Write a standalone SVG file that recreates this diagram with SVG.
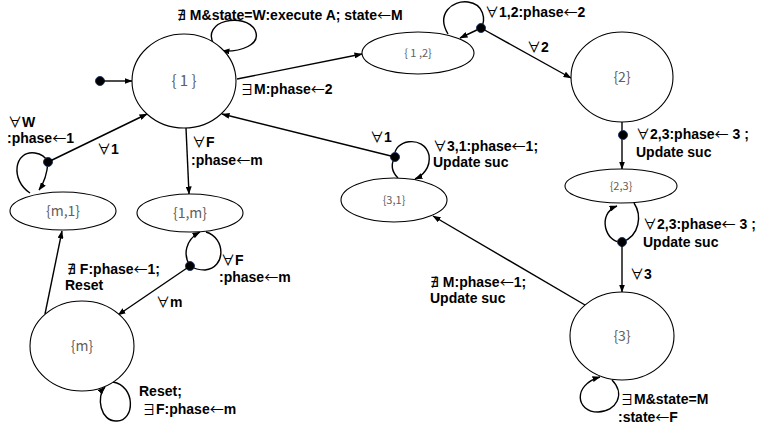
<svg xmlns="http://www.w3.org/2000/svg" width="763" height="429" viewBox="0 0 763 429">
<style>
.n{fill:#fff;stroke:#000;stroke-width:1.1}
.nt{font-family:"Noto Sans CJK JP","Liberation Sans",sans-serif;font-weight:400;fill:#606060;text-anchor:middle}
.c{fill:none;stroke:#000;stroke-width:1.4}
.a{marker-end:url(#ah)}
.l{font-family:"Liberation Sans","DejaVu Sans","Noto Sans CJK JP",sans-serif;font-weight:bold;font-size:14px;fill:#000}
.s{font-family:"Noto Sans CJK JP","DejaVu Sans",sans-serif;font-weight:400}
.x{font-family:"DejaVu Sans",sans-serif;font-weight:400;letter-spacing:4px}
.d{fill:#000;stroke:#1f3864;stroke-width:1}
</style>
<defs>
<marker id="ah" markerWidth="8" markerHeight="6" refX="7.5" refY="3" orient="auto" markerUnits="userSpaceOnUse">
<path d="M0,0 L8,3 L0,6 z" fill="#000"/>
</marker>
</defs>
<rect width="763" height="429" fill="#fff"/>

<g id="connectors">
<circle class="d" cx="100" cy="81" r="4.5"/>
<line class="c a" x1="104" y1="81" x2="132" y2="81"/>
<path class="c a" d="M214,45 C200,20 245,12 255,30 C262,45 240,52 222,51"/>
<line class="c a" x1="237" y1="79" x2="362" y2="54"/>
<path class="c" d="M448,34 C436,14 452,0 468,2 C484,4 486,20 481,28"/>
<line class="c a" x1="481" y1="28" x2="460" y2="38"/>
<circle class="d" cx="481" cy="28" r="4.5"/>
<line class="c a" x1="481" y1="28" x2="571" y2="78"/>
<line class="c a" x1="622" y1="122" x2="622" y2="169"/>
<circle class="d" cx="623" cy="135" r="4.5"/>
<path class="c" d="M634,203 C642,215 640,236 622,242"/>
<path class="c a" d="M622,242 C606,244 596,214 617,206"/>
<circle class="d" cx="622" cy="242" r="4.5"/>
<line class="c a" x1="622" y1="242" x2="622" y2="292"/>
<line class="c a" x1="585" y1="305" x2="433" y2="216"/>
<path class="c a" d="M612,380 C626,394 616,412 598,412 C576,412 572,385 600,377"/>
<path class="c" d="M398,178 C390,170 392,162 395,157"/>
<path class="c a" d="M395,157 C392,140 424,134 429,155 C431,168 422,176 415,179"/>
<circle class="d" cx="395" cy="157" r="4.5"/>
<line class="c a" x1="395" y1="157" x2="222" y2="114"/>
<line class="c a" x1="186" y1="128" x2="189" y2="194"/>
<path class="c" d="M206,232 C226,238 226,268 205,270 C198,270 193,268 190,266"/>
<path class="c a" d="M190,266 C183,255 185,240 200,232"/>
<circle class="d" cx="190" cy="266" r="4.5"/>
<line class="c a" x1="190" y1="266" x2="118" y2="315"/>
<line class="c a" x1="45" y1="314" x2="62" y2="231"/>
<path class="c" d="M30,193 C10,180 14,150 35,153 C42,154 46,158 48,162"/>
<path class="c a" d="M48,162 C47,175 44,183 39,190"/>
<circle class="d" cx="48" cy="162" r="4.5"/>
<line class="c a" x1="48" y1="162" x2="147" y2="114"/>
<path class="c a" d="M113,382 C136,386 135,421 117,421 C100,422 96,396 105,387"/>
</g>

<g id="labels">
<text class="l" x="177" y="20"><tspan class="x">∄</tspan>M&amp;state=W:execute A; state<tspan class="s">←</tspan>M</text>
<text class="l" x="240" y="94"><tspan class="s">∃</tspan>M:phase<tspan class="s">←</tspan>2</text>
<text class="l" x="485" y="17"><tspan class="s">∀</tspan>1,2:phase<tspan class="s">←</tspan>2</text>
<text class="l" x="527" y="52"><tspan class="s">∀</tspan>2</text>
<text class="l" x="636" y="139"><tspan class="s">∀</tspan>2,3:phase<tspan class="s">←</tspan> 3 ;</text>
<text class="l" x="636" y="157">Update suc</text>
<text class="l" x="643" y="229"><tspan class="s">∀</tspan>2,3:phase<tspan class="s">←</tspan> 3 ;</text>
<text class="l" x="643" y="247">Update suc</text>
<text class="l" x="630" y="279"><tspan class="s">∀</tspan>3</text>
<text class="l" x="430" y="287"><tspan class="x">∄</tspan>M:phase<tspan class="s">←</tspan>1;</text>
<text class="l" x="430" y="303">Update suc</text>
<text class="l" x="620" y="404"><tspan class="s">∃</tspan>M&amp;state=M</text>
<text class="l" x="618" y="422">:state<tspan class="s">←</tspan>F</text>
<text class="l" x="370" y="142"><tspan class="s">∀</tspan>1</text>
<text class="l" x="433" y="151"><tspan class="s">∀</tspan>3,1:phase<tspan class="s">←</tspan>1;</text>
<text class="l" x="433" y="167">Update suc</text>
<text class="l" x="192" y="147"><tspan class="s">∀</tspan>F</text>
<text class="l" x="191" y="165">:phase<tspan class="s">←</tspan>m</text>
<text class="l" x="221" y="265"><tspan class="s">∀</tspan>F</text>
<text class="l" x="219" y="282">:phase<tspan class="s">←</tspan>m</text>
<text class="l" x="156" y="307"><tspan class="s">∀</tspan>m</text>
<text class="l" x="67" y="274"><tspan class="x">∄</tspan>F:phase<tspan class="s">←</tspan>1;</text>
<text class="l" x="65" y="290">Reset</text>
<text class="l" x="97" y="154"><tspan class="s">∀</tspan>1</text>
<text class="l" x="8" y="127"><tspan class="s">∀</tspan>W</text>
<text class="l" x="7" y="143">:phase<tspan class="s">←</tspan>1</text>
<text class="l" x="139" y="396">Reset;</text>
<text class="l" x="142" y="414"><tspan class="s">∃</tspan>F:phase<tspan class="s">←</tspan>m</text>
</g>

<g id="n1"><ellipse class="n" cx="184" cy="81" rx="52" ry="47"/><text class="nt" x="184" y="86" font-size="15">{ 1 }</text></g>
<g id="n12"><ellipse class="n" cx="418" cy="53" rx="56" ry="21"/><text class="nt" x="418" y="57" font-size="11">{ 1 ,2}</text></g>
<g id="n2"><ellipse class="n" cx="622" cy="77" rx="51" ry="45"/><text class="nt" x="622" y="82" font-size="14">{2}</text></g>
<g id="n23"><ellipse class="n" cx="621" cy="186" rx="56" ry="17"/><text class="nt" x="621" y="190" font-size="11">{2,3}</text></g>
<g id="n3"><ellipse class="n" cx="622" cy="336" rx="52" ry="44"/><text class="nt" x="622" y="341" font-size="14">{3}</text></g>
<g id="n31"><ellipse class="n" cx="394" cy="200" rx="53" ry="22"/><text class="nt" x="394" y="204" font-size="11">{3,1}</text></g>
<g id="nm1"><ellipse class="n" cx="63" cy="211" rx="53" ry="19"/><text class="nt" x="63" y="216" font-size="14">{m,1}</text></g>
<g id="n1m"><ellipse class="n" cx="190" cy="213" rx="53" ry="19"/><text class="nt" x="190" y="218" font-size="14">{1,m}</text></g>
<g id="nm"><ellipse class="n" cx="82" cy="346" rx="52" ry="45"/><text class="nt" x="82" y="351" font-size="14">{m}</text></g>
</svg>
